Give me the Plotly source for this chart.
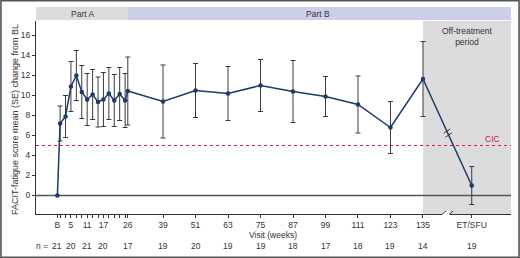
import plotly.graph_objects as go

# ---- data ----
weeks = [0, 1, 3, 5, 7, 9, 11, 13, 15, 17, 19, 21, 23, 25, 26,
         39, 51, 63, 75, 87, 99, 111, 123, 135, 153]
means = [0.0, 7.2, 7.9, 10.9, 12.0, 10.35, 9.6, 10.1, 9.35, 9.6, 10.2, 9.5, 10.15, 9.5, 10.45,
         9.4, 10.5, 10.2, 11.0, 10.4, 9.9, 9.1, 6.8, 11.65, 1.0]
se = [0.0, 1.75, 2.1, 2.5, 2.5, 2.65, 2.6, 2.5, 2.5, 2.7, 2.6, 2.6, 2.65, 2.7, 3.4,
      3.65, 2.7, 2.7, 2.6, 3.1, 2.0, 2.85, 2.6, 3.75, 1.9]
label_weeks = [0, 5, 11, 17, 26, 39, 51, 63, 75, 87, 99, 111, 123, 135, 153]
label_text = ["B", "5", "11", "17", "26", "39", "51", "63", "75", "87", "99", "111", "123", "135", "ET/SFU"]
n_values = ["21", "20", "21", "20", "17", "19", "20", "19", "19", "18", "17", "18", "19", "14", "19"]
cic = 5
y_ticks = [0, 2, 4, 6, 8, 10, 12, 14, 16]

XMIN, XMAX = -7.9, 167.5
YMIN, YMAX = -1.85, 17.45
BREAK_X = 143.5
FONT = "Liberation Sans, Arial, sans-serif"
NAVY = "#1d3b66"
TXT = "#333333"

fig = go.Figure()

fig.add_trace(go.Scatter(
    x=weeks, y=means, mode="lines+markers",
    line=dict(color=NAVY, width=1.5),
    marker=dict(color=NAVY, size=4.5),
    error_y=dict(type="data", array=se, color="#3a3a3a", thickness=1, width=2.5),
    showlegend=False, hoverinfo="skip",
))

tick_vals = sorted(set(weeks))
tick_txt = [label_text[label_weeks.index(w)] if w in label_weeks else "" for w in tick_vals]

shapes = []
# off-treatment shaded region
shapes.append(dict(type="rect", xref="x", yref="paper", x0=135, x1=XMAX, y0=0, y1=1,
                   fillcolor="#dcdcde", line=dict(width=0), layer="below"))
# header bands
shapes.append(dict(type="rect", xref="x", yref="paper", x0=XMIN, x1=26, y0=1.005, y1=1.072,
                   fillcolor="#dcdcdf", line=dict(width=0)))
shapes.append(dict(type="rect", xref="x", yref="paper", x0=26, x1=XMAX, y0=1.005, y1=1.072,
                   fillcolor="#ccceea", line=dict(width=0)))
# zero line
shapes.append(dict(type="line", xref="paper", yref="y", x0=0, x1=1, y0=0, y1=0,
                   line=dict(color="#555555", width=1.5), layer="below"))
# CIC line
shapes.append(dict(type="line", xref="paper", yref="y", x0=0, x1=1, y0=cic, y1=cic,
                   line=dict(color="#e3173e", width=1.2, dash="dot"), layer="below"))
# x-axis break: white gap + two slashes
shapes.append(dict(type="rect", xref="x", yref="paper", x0=BREAK_X - 1.3, x1=BREAK_X + 1.3,
                   y0=-0.012, y1=0.012, fillcolor="white", line=dict(width=0)))
for dx in (-1.3, 1.3):
    shapes.append(dict(type="line", xref="x", yref="y", x0=BREAK_X + dx - 1.3, x1=BREAK_X + dx + 1.3,
                       y0=YMIN - 0.3, y1=YMIN + 0.3, line=dict(color="#333333", width=1)))
# line break slashes on the data line
bx, by = 144.2, 6.25
for off in (-1, 1):
    cx, cy = bx + off * 0.3, by - off * 0.2
    shapes.append(dict(type="line", xref="x", yref="y", x0=cx - 1.2, x1=cx + 1.2,
                       y0=cy - 0.22, y1=cy + 0.22, line=dict(color="#333333", width=1)))
# outer frame
shapes.append(dict(type="rect", xref="paper", yref="paper",
                   x0=-36 / 475 + 0.002, x1=1 + 9 / 475 - 0.002,
                   y0=-44 / 193 + 0.004, y1=1 + 21 / 193 - 0.004,
                   line=dict(color="#555555", width=1.6)))


def ann(x, y, text, xref="paper", yref="paper", size=8.5, color=TXT, xanchor="center", **kw):
    return dict(x=x, y=y, xref=xref, yref=yref, text=text, showarrow=False,
                xanchor=xanchor, yanchor="middle",
                font=dict(size=size, color=color, family=FONT), **kw)


def px_x(p):
    return (p - 36) / 475


def px_y(p):
    return (214 - p) / 193


annotations = [
    ann(px_x(82), px_y(13.5), "Part A"),
    ann(px_x(318), px_y(13.5), "Part B"),
    ann(px_x(467), px_y(37), "Off-treatment<br>period"),
    ann(px_x(492), cic + 0.65, "CIC", yref="y", color="#c8203a"),
    ann(px_x(15), px_y(120), "FACIT-fatigue score mean (SE) change from BL", size=9, textangle=-90),
    ann(px_x(273), px_y(234.5), "Visit (weeks)", size=8.5),
    ann(px_x(50), px_y(246), "n =", xanchor="right"),
]
for w, n in zip(label_weeks, n_values):
    annotations.append(ann(w, px_y(246), n, xref="x"))

fig.update_layout(
    width=520, height=258,
    margin=dict(l=36, r=9, t=21, b=44, autoexpand=False),
    paper_bgcolor="white", plot_bgcolor="white",
    font=dict(family=FONT, size=8.5, color=TXT),
    shapes=shapes, annotations=annotations,
    xaxis=dict(range=[XMIN, XMAX], tickvals=tick_vals, ticktext=tick_txt, automargin=False,
               showgrid=False, zeroline=False, showline=True, linecolor="#333333", linewidth=1,
               ticks="outside", ticklen=3, tickcolor="#333333", tickfont=dict(size=8.5),
               fixedrange=True),
    yaxis=dict(range=[YMIN, YMAX], tickvals=y_ticks, showgrid=False, zeroline=False, automargin=False,
               showline=True, linecolor="#333333", linewidth=1,
               ticks="outside", ticklen=3, tickcolor="#333333", tickfont=dict(size=8.5),
               fixedrange=True),
)

fig.write_html("out.html", config={"displayModeBar": False},
               post_script="document.body.style.margin='0';document.body.style.overflow='hidden';")
